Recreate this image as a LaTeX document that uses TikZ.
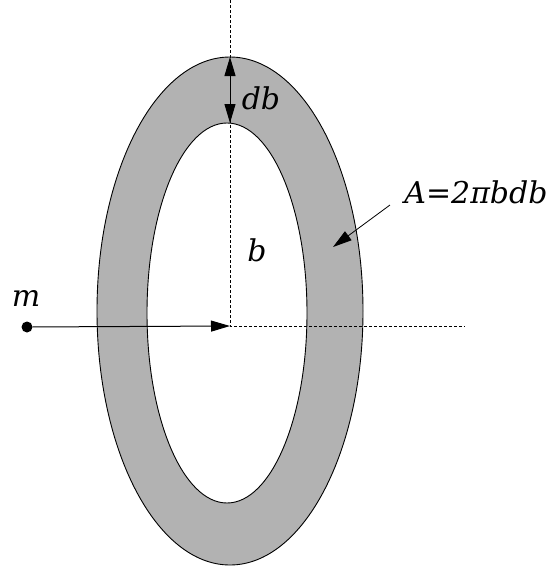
\documentclass[tikz,border=0pt]{standalone}
\usepackage{fontspec}
\newfontfamily\lblfont{DejaVu Serif}
\usetikzlibrary{arrows.meta}

\begin{document}
\begin{tikzpicture}[
    x=1pt, y=-1pt,
    ring/.style={fill=black!30, even odd rule},
    edge/.style={draw, line width=0.9pt},
    guide/.style={line width=0.8pt, dash pattern=on 3pt off 2pt},
    lbl/.style={font=\lblfont\itshape\fontsize{30}{36}\selectfont, inner sep=0pt},
    >={Triangle[length=19pt, width=11pt]}
  ]
  \useasboundingbox (0,0) rectangle (552,571);

  % the ring
  \fill[ring] (230,311) ellipse (133 and 254) (227,313) ellipse (80 and 190);
  \draw[edge] (230,311) ellipse (133 and 254);
  \draw[edge] (227,313) ellipse (80 and 190);

  \coordinate (ctr) at (230,326);
  \coordinate (axtop) at (230,0);
  \coordinate (axend) at (465,326);
  \coordinate (otop) at (230,57);
  \coordinate (itop) at (230,123);
  \coordinate (atail) at (390,205);
  \coordinate (ahead) at (333,247);

  \draw[guide] (axtop) -- (ctr) -- (axend);

  \node[circle, fill, inner sep=0pt, minimum size=11pt] (mdot) at (27,327) {};
  \node[lbl] (mlbl) at (26,298) {m};
  \node[lbl] (blbl) at (257,250) {b};
  \node[lbl] (dblbl) at (261,98) {db};
  \node[lbl] (albl) at (476,192) {A=2πbdb};

  \draw[->, line width=1pt] (mdot) -- (ctr);
  \draw[<->, line width=1pt] (otop) -- (itop);
  \draw[->, line width=0.8pt] (atail) -- (ahead);
\end{tikzpicture}
\end{document}
